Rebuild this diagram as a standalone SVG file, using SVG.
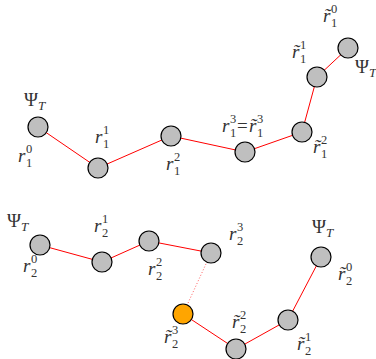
<svg xmlns="http://www.w3.org/2000/svg" width="376" height="359" viewBox="0 0 376 359">
<style>
text{font-family:"Liberation Serif","Times New Roman",serif;fill:#333;font-size:19px}
.i{font-style:italic}
.s{font-size:12.5px;font-style:normal}
.si{font-size:13px;font-style:italic}
.n{fill:#bfbfbf;stroke:#000;stroke-width:1.2}
.o{fill:#ffa500;stroke:#000;stroke-width:1.2}
.e{stroke:#ff0000;stroke-width:1;fill:none}
.d{stroke:#ff6060;stroke-width:1;fill:none;stroke-dasharray:1 2}
</style>
<rect width="376" height="359" fill="#fff"/>
<g id="connectors">
<polyline class="e" points="38,127 98,168 171,136 245,152 302,132 317,77 348,48"/>
<polyline class="e" points="40,245 102,262 149,241 211,253"/>
<line class="d" x1="211" y1="253" x2="183" y2="314"/>
<polyline class="e" points="183,314 236,349 288,320 321,257"/>
</g>
<g id="a0"><circle class="n" cx="38" cy="127" r="10"/>
<text x="24" y="106">Ψ<tspan class="si" x="38" y="110">T</tspan></text>
<text class="i" x="18" y="162">r<tspan class="s" x="26" y="153">0</tspan><tspan class="s" x="26" y="167">1</tspan></text></g>
<g id="a1"><circle class="n" cx="98" cy="168" r="10"/>
<text class="i" x="95" y="143">r<tspan class="s" x="103" y="134">1</tspan><tspan class="s" x="103" y="148">1</tspan></text></g>
<g id="a2"><circle class="n" cx="171" cy="136" r="10"/>
<text class="i" x="166" y="170">r<tspan class="s" x="174" y="161">2</tspan><tspan class="s" x="174" y="175">1</tspan></text></g>
<g id="a3"><circle class="n" cx="245" cy="152" r="10"/>
<text class="i" x="222" y="132">r<tspan class="s" x="230" y="123">3</tspan><tspan class="s" x="230" y="137">1</tspan><tspan style="font-style:normal" x="237" y="132">=</tspan><tspan x="249" y="132">r̃</tspan><tspan class="s" x="257" y="123">3</tspan><tspan class="s" x="257" y="137">1</tspan></text></g>
<g id="a4"><circle class="n" cx="302" cy="132" r="10"/>
<text class="i" x="313" y="153">r̃<tspan class="s" x="321" y="144">2</tspan><tspan class="s" x="321" y="158">1</tspan></text></g>
<g id="a5"><circle class="n" cx="317" cy="77" r="10"/>
<text class="i" x="292" y="58">r̃<tspan class="s" x="300" y="49">1</tspan><tspan class="s" x="300" y="63">1</tspan></text></g>
<g id="a6"><circle class="n" cx="348" cy="48" r="10"/>
<text class="i" x="323" y="22">r̃<tspan class="s" x="331" y="13">0</tspan><tspan class="s" x="331" y="27">1</tspan></text>
<text x="355" y="73">Ψ<tspan class="si" x="369" y="77">T</tspan></text></g>
<g id="b0"><circle class="n" cx="40" cy="245" r="10"/>
<text x="7" y="227">Ψ<tspan class="si" x="21" y="231">T</tspan></text>
<text class="i" x="23" y="272">r<tspan class="s" x="31" y="263">0</tspan><tspan class="s" x="31" y="277">2</tspan></text></g>
<g id="b1"><circle class="n" cx="102" cy="262" r="10"/>
<text class="i" x="94" y="232">r<tspan class="s" x="102" y="223">1</tspan><tspan class="s" x="102" y="237">2</tspan></text></g>
<g id="b2"><circle class="n" cx="149" cy="241" r="10"/>
<text class="i" x="148" y="275">r<tspan class="s" x="156" y="266">2</tspan><tspan class="s" x="156" y="280">2</tspan></text></g>
<g id="b3"><circle class="n" cx="211" cy="253" r="10"/>
<text class="i" x="229" y="240">r<tspan class="s" x="237" y="231">3</tspan><tspan class="s" x="237" y="245">2</tspan></text></g>
<g id="c3"><circle class="o" cx="183" cy="314" r="10"/>
<text class="i" x="164" y="343">r̃<tspan class="s" x="172" y="334">3</tspan><tspan class="s" x="172" y="348">2</tspan></text></g>
<g id="c2"><circle class="n" cx="236" cy="349" r="10"/>
<text class="i" x="232" y="328">r̃<tspan class="s" x="240" y="319">2</tspan><tspan class="s" x="240" y="333">2</tspan></text></g>
<g id="c1"><circle class="n" cx="288" cy="320" r="10"/>
<text class="i" x="297" y="350">r̃<tspan class="s" x="305" y="341">1</tspan><tspan class="s" x="305" y="355">2</tspan></text></g>
<g id="c0"><circle class="n" cx="321" cy="257" r="10"/>
<text x="312" y="233">Ψ<tspan class="si" x="326" y="237">T</tspan></text>
<text class="i" x="338" y="280">r̃<tspan class="s" x="346" y="271">0</tspan><tspan class="s" x="346" y="285">2</tspan></text></g>
</svg>
